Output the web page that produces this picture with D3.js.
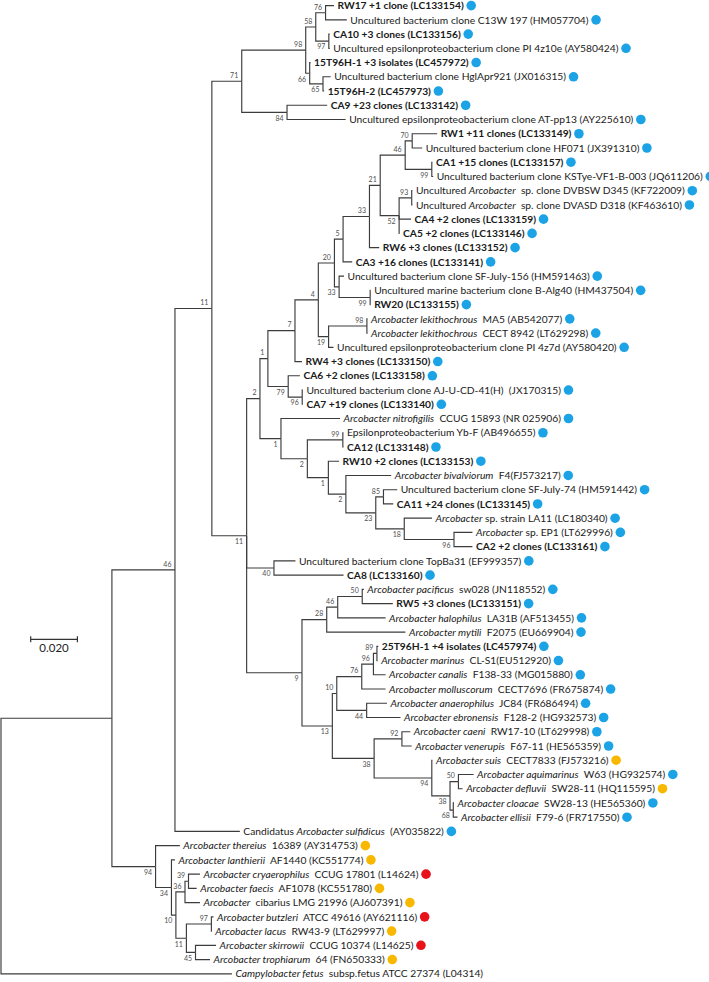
<!DOCTYPE html>
<html><head><meta charset="utf-8">
<script src="https://cdn.jsdelivr.net/npm/d3@7"></script>
<style>body{margin:0;background:#fff;} text{font-family:Lato,"Open Sans",sans-serif;}</style>
</head><body>
<script>
// ---- Tree topology (Newick), branch lengths in substitutions/site, internal labels = bootstrap ----
const cladeTop = "((((L0:0.0036,L1:0.0091)76:0.0042,(L2:0.0004,L3:0.0004)97:0.0056)58:0.0043,(L4:0.0004,(L5:0.0033,L6:0.0005)65:0.0057)66:0.0017)98:0.0274,(L7:0.0172,L8:0.0251)84:0.0194)71:0.0128";
const clade21 = "(((L9:0.0107,L10:0.0043)70:0.0030,(L11:0.0003,L12:0.0006)99:0.0114)46:0.0107,((L13:0.0003,L14:0.0003)93:0.0054,L15:0.0051,L16:0.0002)52:0.0081)21:0.0046";
const clade20 = "(((" + clade21 + ",L17:0.0042)33:0.0113,L18:0.0039)5:0.0037,(L19:0.0021,(L20:0.0002,L21:0.0002)99:0.0133)33:0.0020)20:0.0069";
const clade1a = "(((" + clade20 + ",((L22:0.0003,L23:0.0003)98:0.0164,L24:0.0021)19:0.0044)4:0.0100,L25:0.0030)7:0.0116,(L26:0.0050,(L27:0.0003,L28:0.0003)96:0.0060)79:0.0087)1:0.0034";
const clade23 = "((L34:0.0059,L35:0.0042)85:0.0033,(L36:0.0119,(L37:0.0079,L38:0.0079)96:0.0213)18:0.0122)23:0.0128";
const clade1b = "(L29:0.0253,((L30:0.0003,L31:0.0003)99:0.0152,(L32:0.0046,(L33:0.0194," + clade23 + ")2:0.0075)1:0.0090)2:0.0113)1:0.0090";
const clade40 = "(L39:0.0092,L40:0.0298)40:0.0117";
const clade28 = "(((L41:0.0007,L42:0.0131)50:0.0105,L43:0.0205)46:0.0047,L44:0.0337)28:0.0106";
const clade10 = "((((L45:0.0006,L46:0.0003)89:0.0015,L47:0.0052)96:0.0050,L48:0.0102)76:0.0107,(L49:0.0087,L50:0.0145)44:0.0128)10:0.0019";
const clade38 = "((L51:0.0036,L52:0.0042)92:0.0119,(L53:0.0003,((L54:0.0065,L55:0.0018)50:0.0036,(L56:0.0003,L57:0.0018)68:0.0014)38:0.0078)94:0.0247)38:0.0179";
const clade9 = "(" + clade28 + ",(" + clade10 + "," + clade38 + ")13:0.0130)9:0.0237";
const clade46 = "((" + cladeTop + ",((" + clade1a + "," + clade1b + ")2:0.0057," + clade40 + "," + clade9 + ")11:0.0149)11:0.0158,L58:0.0278)46:0.0270";
const clade94 = "(L59:0.0104,(L60:0.0015,(((L61:0.0049,L62:0.0035)39:0.0015,L63:0.0064)36:0.0039,((L64:0.0009,L65:0.0002)97:0.0107,(L66:0.0088,L67:0.0062)45:0.0039)11:0.0045)10:0.0019)34:0.0068)94:0.0187";
const newick = "((" + clade46 + "," + clade94 + "):0.0475,L68:0.0989);";

// ---- Leaf labels (top to bottom). **bold**, _italic_ ----
const leafLabels = [
 "**RW17 +1 clone (LC133154)**",
 "Uncultured bacterium clone C13W 197 (HM057704)",
 "**CA10 +3 clones (LC133156)**",
 "Uncultured epsilonproteobacterium clone PI 4z10e (AY580424)",
 "**15T96H-1 +3 isolates (LC457972)**",
 "Uncultured bacterium clone HglApr921 (JX016315)",
 "**15T96H-2 (LC457973)**",
 "**CA9 +23 clones (LC133142)**",
 "Uncultured epsilonproteobacterium clone AT-pp13 (AY225610)",
 "**RW1 +11 clones (LC133149)**",
 "Uncultured bacterium clone HF071 (JX391310)",
 "**CA1 +15 clones (LC133157)**",
 "Uncultured bacterium clone KSTye-VF1-B-003 (JQ611206)",
 "Uncultured _Arcobacter_  sp. clone DVBSW D345 (KF722009)",
 "Uncultured _Arcobacter_  sp. clone DVASD D318 (KF463610)",
 "**CA4 +2 clones (LC133159)**",
 "**CA5 +2 clones (LC133146)**",
 "**RW6 +3 clones (LC133152)**",
 "**CA3 +16 clones (LC133141)**",
 "Uncultured bacterium clone SF-July-156 (HM591463)",
 "Uncultured marine bacterium clone B-Alg40 (HM437504)",
 "**RW20 (LC133155)**",
 "_Arcobacter lekithochrous_  MA5 (AB542077)",
 "_Arcobacter lekithochrous_  CECT 8942 (LT629298)",
 "Uncultured epsilonproteobacterium clone PI 4z7d (AY580420)",
 "**RW4 +3 clones (LC133150)**",
 "**CA6 +2 clones (LC133158)**",
 "Uncultured bacterium clone AJ-U-CD-41(H)  (JX170315)",
 "**CA7 +19 clones (LC133140)**",
 "_Arcobacter nitrofigilis_  CCUG 15893 (NR 025906)",
 "Epsilonproteobacterium Yb-F (AB496655)",
 "**CA12 (LC133148)**",
 "**RW10 +2 clones (LC133153)**",
 "_Arcobacter bivalviorum_  F4(FJ573217)",
 "Uncultured bacterium clone SF-July-74 (HM591442)",
 "**CA11 +24 clones (LC133145)**",
 "_Arcobacter_ sp. strain LA11 (LC180340)",
 "_Arcobacter_ sp. EP1 (LT629996)",
 "**CA2 +2 clones (LC133161)**",
 "Uncultured bacterium clone TopBa31 (EF999357)",
 "**CA8 (LC133160)**",
 "_Arcobacter pacificus_  sw028 (JN118552)",
 "**RW5 +3 clones (LC133151)**",
 "_Arcobacter halophilus_  LA31B (AF513455)",
 "_Arcobacter mytili_  F2075 (EU669904)",
 "**25T96H-1 +4 isolates (LC457974)**",
 "_Arcobacter marinus_  CL-S1(EU512920)",
 "_Arcobacter canalis_  F138-33 (MG015880)",
 "_Arcobacter molluscorum_  CECT7696 (FR675874)",
 "_Arcobacter anaerophilus_  JC84 (FR686494)",
 "_Arcobacter ebronensis_  F128-2 (HG932573)",
 "_Arcobacter caeni_  RW17-10 (LT629998)",
 "_Arcobacter venerupis_  F67-11 (HE565359)",
 "_Arcobacter suis_  CECT7833 (FJ573216)",
 "_Arcobacter aquimarinus_  W63 (HG932574)",
 "_Arcobacter defluvii_  SW28-11 (HQ115595)",
 "_Arcobacter cloacae_  SW28-13 (HE565360)",
 "_Arcobacter ellisii_  F79-6 (FR717550)",
 "Candidatus _Arcobacter sulfidicus_  (AY035822)",
 "_Arcobacter thereius_  16389 (AY314753)",
 "_Arcobacter lanthierii_  AF1440 (KC551774)",
 "_Arcobacter cryaerophilus_  CCUG 17801 (L14624)",
 "_Arcobacter faecis_  AF1078 (KC551780)",
 "_Arcobacter_  cibarius LMG 21996 (AJ607391)",
 "_Arcobacter butzleri_  ATCC 49616 (AY621116)",
 "_Arcobacter lacus_  RW43-9 (LT629997)",
 "_Arcobacter skirrowii_  CCUG 10374 (L14625)",
 "_Arcobacter trophiarum_  64 (FN650333)",
 "_Campylobacter fetus_  subsp.fetus ATCC 27374 (L04314)"
];
// ---- Dot category per leaf: b = blue, o = orange, r = red, "" = none ----
const leafDots = [
 "b","b","b","b","b","b","b","b","b","b","b","b","b","b","b","b","b","b","b","b",
 "b","b","b","b","b","b","b","b","b","b","b","b","b","b","b","b","b","b","b","b",
 "b","b","b","b","b","b","b","b","b","b","b","b","b","o","b","o","b","b","b","o",
 "o","r","o","o","r","o","r","o",""
];
const dotColors = {b:"#1ba3e6", o:"#f9b800", r:"#e8121b"};
const scaleBarValue = 0.020;
const scaleBarLabel = "0.020";

// ---- Newick parser ----
function parseNewick(str){
  const s = str.replace(/\s+/g,"");
  let i = 0;
  function node(){
    const n = {children:[]};
    if (s[i] === "("){
      i++; n.children.push(node());
      while (s[i] === ","){ i++; n.children.push(node()); }
      i++;
    }
    let name = "";
    while (i < s.length && !":,();".includes(s[i])) name += s[i++];
    n.name = name;
    n.length = 0;
    if (s[i] === ":"){ i++; let num = ""; while (i < s.length && !",();".includes(s[i])) num += s[i++]; n.length = +num; }
    return n;
  }
  return node();
}

const W = 709, H = 982;
const svg = d3.select("body").append("svg").attr("width", W).attr("height", H);

const root = d3.hierarchy(parseNewick(newick), d => d.children.length ? d.children : null);
root.eachBefore(d => { d.dist = (d.parent ? d.parent.dist : 0) + (d.parent ? d.data.length : 0); });

const x = d3.scaleLinear().domain([0, 0.02]).range([1, 47.7]);
const leaves = root.leaves();
const y = d3.scaleLinear().domain([0, leaves.length - 1]).range([5.6, 973.8]);
leaves.forEach((d, i) => { d.idx = +d.data.name.slice(1); d.py = y(i); });
root.eachAfter(d => { if (d.children) d.py = (d.children[0].py + d.children[d.children.length - 1].py) / 2; });
root.each(d => { d.px = x(d.dist); });

// ---- branches ----
svg.append("g").attr("fill","none").attr("stroke","#3c3c3c").attr("stroke-width",1.15)
  .selectAll("path").data(root.descendants().filter(d => d.parent)).join("path")
  .attr("d", d => `M${d.parent.px},${d.parent.py}V${d.py}H${d.px}`);

// ---- bootstrap labels ----
svg.append("g").selectAll("text")
  .data(root.descendants().filter(d => d.children && d.data.name && d.parent)).join("text")
  .attr("x", d => d.px - 3.5)
  .attr("y", d => (d.parent.children.indexOf(d) === 0) ? d.py - 3.2 : d.py + 8.3)
  .attr("text-anchor","end").attr("font-size", 7).attr("fill","#505050")
  .text(d => d.data.name);

// ---- font calibration on a reference label ----
const probe = svg.append("text").attr("font-size", 12).style("white-space","pre").text("Uncultured epsilonproteobacterium clone PI 4z10e (AY580424)");
const fs = Math.max(10, Math.min(13.5, 12 * 285.6 / probe.node().getComputedTextLength()));
probe.remove();

// ---- leaf labels and dots ----
const lg = svg.append("g");
leaves.forEach(d => {
  const raw = leafLabels[d.idx];
  const bold = raw.startsWith("**");
  const s = bold ? raw.slice(2, -2) : raw;
  const t = lg.append("text").attr("x", d.px + 3.5).attr("y", d.py).attr("dy","0.36em")
    .attr("font-size", fs).attr("fill","#1a1a1a").attr("font-weight", bold ? "bold" : "normal")
    .style("white-space","pre");
  s.split("_").forEach((seg, k) => { if (seg) t.append("tspan").attr("font-style", k % 2 ? "italic" : "normal").text(seg); });
  const c = leafDots[d.idx];
  if (c) {
    lg.append("circle").attr("cx", d.px + 3.5 + t.node().getComputedTextLength() + 7.5)
      .attr("cy", d.py).attr("r", 4.8).attr("fill", dotColors[c]);
  }
});

// ---- scale bar ----
const sbY = 639.3, sbX0 = 30.7, sbLen = x(scaleBarValue) - x(0);
const sb = svg.append("g").attr("stroke","#333").attr("stroke-width",1.2);
sb.append("line").attr("x1", sbX0).attr("x2", sbX0 + sbLen).attr("y1", sbY).attr("y2", sbY);
sb.append("line").attr("x1", sbX0).attr("x2", sbX0).attr("y1", sbY - 3).attr("y2", sbY + 3);
sb.append("line").attr("x1", sbX0 + sbLen).attr("x2", sbX0 + sbLen).attr("y1", sbY - 3).attr("y2", sbY + 3);
svg.append("text").attr("x", sbX0 + sbLen / 2).attr("y", sbY + 12.5).attr("text-anchor","middle")
  .attr("font-size", 11.5).attr("fill","#222").text(scaleBarLabel);
</script>
</body></html>
